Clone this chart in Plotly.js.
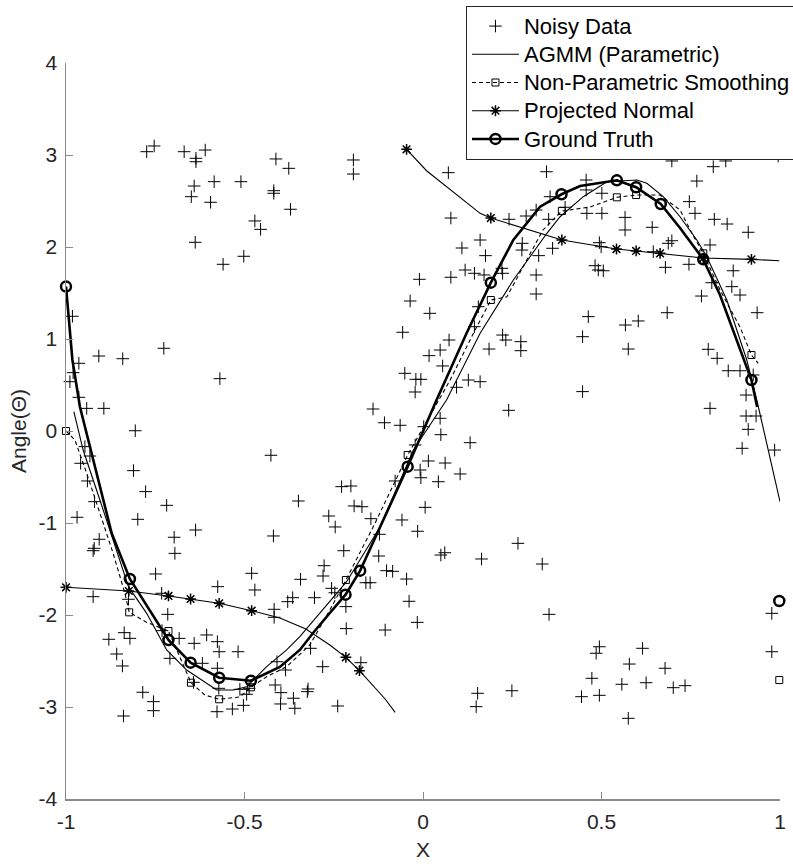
<!DOCTYPE html>
<html>
<head>
<meta charset="utf-8">
<script src="https://cdn.plot.ly/plotly-3.0.1.min.js"></script>
<style>html,body{margin:0;padding:0;background:#fff;}#chart{width:793px;height:864px;}</style>
</head>
<body>
<div id="chart"></div>
<script>
// ---- Noisy data ----
const noisyX = [-0.774,-0.753,-0.669,-0.636,-0.636,-0.610,-0.641,-0.649,-0.585,-0.595,-0.510,-0.638,-0.560,-0.502,-0.471,-0.455,-0.418,-0.418,-0.412,-0.376,-0.371,
-0.982,-0.964,-0.908,-0.841,-0.726,-0.569,-0.980,-0.989,-0.964,-0.942,-0.894,-0.806,-0.947,-0.933,-0.959,-0.811,-0.940,-0.777,-0.920,-0.718,-0.426,-0.349,
-0.969,-0.799,-0.637,-0.907,-0.697,-0.419,-0.921,-0.924,-0.695,-0.749,-0.480,-0.575,-0.471,-0.924,-0.365,-0.343,-0.228,-0.264,-0.246,-0.222,-0.277,-0.280,
-0.256,-0.304,-0.379,-0.417,-0.417,-0.216,-0.715,-0.732,-0.825,-0.880,-0.837,-0.821,-0.858,-0.842,-0.785,-0.755,-0.755,-0.839,-0.731,-0.683,-0.641,-0.606,
-0.576,-0.571,-0.518,-0.709,-0.618,-0.576,-0.643,-0.572,-0.513,-0.487,-0.577,-0.534,-0.503,-0.494,-0.409,-0.385,-0.414,-0.398,-0.399,-0.363,-0.359,
-0.140,-0.108,-0.064,0.002,0.048,0.050,0.240,0.132,-0.022,0.015,0.062,-0.008,-0.006,0.043,0.104,-0.078,-0.202,-0.193,-0.171,-0.146,-0.059,0.006,-0.015,
-0.122,-0.124,0.266,0.050,0.061,0.164,0.334,-0.102,-0.085,-0.046,-0.160,-0.148,-0.247,-0.039,0.353,-0.016,-0.106,-0.215,-0.315,-0.174,-0.281,-0.322,-0.324,
0.153,0.249,-0.239,0.149,-0.195,-0.195,0.071,0.346,0.078,0.241,0.289,0.317,0.352,0.160,0.109,0.175,0.278,0.277,0.324,0.363,0.118,0.144,0.171,0.221,0.223,
0.078,0.317,0.317,-0.010,-0.036,0.019,-0.057,0.155,0.144,0.073,0.048,0.017,0.055,-0.051,-0.020,-0.006,-0.022,0.127,0.160,0.094,0.185,0.223,0.232,0.274,0.274,
0.697,0.813,0.848,0.995,0.767,0.457,0.457,0.501,0.356,0.398,0.459,0.501,0.566,0.566,0.642,0.746,0.762,0.816,0.852,0.911,0.494,0.499,0.645,0.687,0.697,
0.745,0.679,0.804,0.482,0.491,0.505,0.869,0.809,0.865,0.888,0.780,0.936,0.684,0.463,0.567,0.603,0.447,0.575,0.799,0.824,0.855,0.888,0.925,0.447,0.905,
0.804,0.905,0.933,0.911,0.894,0.985,0.977,0.977,0.494,0.485,0.615,0.578,0.678,0.473,0.557,0.625,0.701,0.734,0.444,0.494,0.575,0.580];
const noisyY = [3.036,3.098,3.036,2.964,2.927,3.054,2.663,2.547,2.710,2.486,2.710,2.051,1.812,1.899,2.283,2.192,2.612,2.584,2.957,2.855,2.410,
1.247,0.736,0.815,0.786,0.899,0.569,0.634,0.536,0.366,0.246,0.246,0.003,-0.170,-0.272,-0.351,-0.431,-0.543,-0.659,-0.768,-0.808,-0.264,-0.761,
-0.938,-0.960,-1.076,-1.177,-1.155,-1.141,-1.275,-1.301,-1.330,-1.554,-1.547,-1.692,-1.728,-1.801,-1.812,-1.612,-0.605,-0.924,-1.043,-1.301,-1.464,-1.576,
-1.710,-1.812,-1.855,-1.938,-2.025,-1.909,-1.993,-1.764,-1.829,-2.264,-2.192,-2.254,-2.424,-2.554,-2.840,-2.942,-3.040,-3.098,-2.170,-2.254,-2.308,-2.217,
-2.290,-2.399,-2.399,-2.471,-2.525,-2.579,-2.732,-2.797,-2.808,-2.797,-3.051,-3.022,-2.982,-2.862,-2.508,-2.598,-2.761,-2.844,-2.967,-2.905,-3.014,
0.239,0.090,0.062,0.047,0.138,-0.040,0.225,-0.127,-0.152,-0.326,-0.348,-0.424,-0.508,-0.551,-0.467,-0.543,-0.598,-0.815,-0.823,-0.953,-0.967,-0.830,-1.090,
-1.123,-1.359,-1.221,-1.348,-1.323,-1.391,-1.446,-1.518,-1.525,-1.609,-1.649,-1.649,-1.758,-1.851,-1.993,-2.080,-2.163,-2.148,-2.362,-2.518,-2.562,-2.804,-2.833,
-2.851,-2.823,-2.989,-2.996,2.946,2.793,2.808,2.818,2.315,2.301,2.337,2.402,2.301,2.076,1.989,1.906,2.040,1.967,1.906,1.986,1.750,1.714,1.696,1.768,1.714,
1.671,1.696,1.489,1.649,1.413,1.279,1.073,1.351,1.134,0.989,0.880,0.819,0.707,0.627,0.562,0.562,0.424,0.554,0.536,0.475,0.891,1.043,0.989,0.971,0.873,
2.935,2.873,2.935,2.989,2.717,2.728,2.620,2.584,2.547,2.432,2.366,2.366,2.322,2.185,2.214,2.493,2.366,2.301,2.250,2.160,2.047,2.003,1.949,2.040,2.068,
1.812,1.779,2.022,1.797,1.750,1.742,1.742,1.612,1.569,1.478,1.467,1.286,1.286,1.243,1.152,1.196,1.025,0.891,0.888,0.790,0.655,0.655,0.609,0.428,0.391,
0.246,0.163,0.163,0.018,-0.188,-0.207,-1.982,-2.399,-2.345,-2.416,-2.362,-2.533,-2.579,-2.688,-2.753,-2.736,-2.790,-2.768,-2.888,-2.873,-3.123,3.030];

// ---- AGMM (Parametric) ----
const agmmX = [-0.978,-0.952,-0.905,-0.858,-0.825,-0.774,-0.718,-0.662,-0.578,-0.531,-0.494,-0.438,-0.382,-0.345,-0.214,-0.120,-0.027,0.066,0.160,0.253,0.347,0.384,0.449,0.515,0.599,0.627,0.673,0.720,0.767,0.795,0.851,0.907,0.935,1.000];
const agmmY = [0.210,-0.207,-0.750,-1.293,-1.692,-1.982,-2.380,-2.598,-2.815,-2.815,-2.779,-2.562,-2.380,-2.236,-1.638,-1.040,-0.207,0.337,1.062,1.641,2.149,2.329,2.547,2.710,2.728,2.692,2.547,2.329,2.076,1.895,1.424,0.772,0.337,-0.768];

// ---- Non-Parametric Smoothing ----
const npX = [-1.0,-0.975,-0.942,-0.905,-0.868,-0.835,-0.823,-0.776,-0.713,-0.681,-0.650,-0.611,-0.571,-0.513,-0.482,-0.438,-0.382,-0.317,-0.261,-0.216,-0.134,-0.043,0.076,0.146,0.190,0.235,0.290,0.336,0.389,0.468,0.543,0.597,0.664,0.720,0.756,0.785,0.832,0.888,0.920,0.939];
const npY = [0.0,-0.098,-0.460,-0.895,-1.329,-1.764,-1.971,-2.076,-2.174,-2.457,-2.736,-2.870,-2.916,-2.891,-2.786,-2.671,-2.562,-2.326,-1.946,-1.620,-1.0,-0.261,0.554,1.098,1.424,1.459,1.859,2.185,2.391,2.435,2.540,2.565,2.565,2.402,2.130,1.931,1.533,1.130,0.826,0.736];
const npMarkX = [-1.0,-0.823,-0.713,-0.650,-0.571,-0.482,-0.216,-0.043,0.190,0.389,0.543,0.597,0.785,0.920,0.998];
const npMarkY = [0.0,-1.971,-2.174,-2.736,-2.916,-2.786,-1.620,-0.261,1.424,2.391,2.540,2.565,1.931,0.826,-2.707];

// ---- Projected Normal ----
const pnX = [-1.0,-0.824,-0.713,-0.651,-0.571,-0.480,-0.401,-0.328,-0.261,-0.216,-0.178,-0.106,-0.078,null,-0.046,0.010,0.160,0.190,0.389,0.542,0.597,0.664,0.785,0.920,0.998];
const pnY = [-1.699,-1.739,-1.793,-1.826,-1.873,-1.953,-2.033,-2.152,-2.326,-2.460,-2.605,-2.913,-3.058,null,3.062,2.829,2.366,2.315,2.076,1.978,1.957,1.931,1.880,1.866,1.851];
const pnMarkX = [-1.0,-0.824,-0.713,-0.651,-0.571,-0.480,-0.216,-0.178,-0.046,0.190,0.389,0.542,0.597,0.664,0.785,0.920];
const pnMarkY = [-1.699,-1.739,-1.793,-1.826,-1.873,-1.953,-2.460,-2.605,3.062,2.315,2.076,1.978,1.957,1.931,1.880,1.866];

// ---- Ground Truth ----
const gtX = [-1.0,-0.982,-0.961,-0.872,-0.821,-0.713,-0.651,-0.571,-0.482,-0.401,-0.345,-0.308,-0.261,-0.217,-0.176,-0.043,0.038,0.122,0.190,0.253,0.328,0.388,0.440,0.543,0.597,0.666,0.720,0.785,0.832,0.874,0.920,0.936];
const gtY = [1.570,0.772,0.264,-1.112,-1.609,-2.272,-2.518,-2.682,-2.714,-2.565,-2.380,-2.196,-1.978,-1.779,-1.518,-0.388,0.337,1.062,1.612,2.076,2.438,2.573,2.663,2.725,2.649,2.467,2.207,1.866,1.478,1.043,0.554,0.260];
const gtMarkX = [-1.0,-0.821,-0.713,-0.651,-0.571,-0.482,-0.217,-0.176,-0.043,0.190,0.388,0.543,0.597,0.666,0.785,0.920,0.998];
const gtMarkY = [1.570,-1.609,-2.272,-2.518,-2.682,-2.714,-1.779,-1.518,-0.388,1.612,2.573,2.725,2.649,2.467,1.866,0.554,-1.848];

// ---- Axis ticks ----
const xTicks = [-1,-0.5,0,0.5,1];
const xTickText = ['-1','-0.5','0','0.5','1'];
const yTicks = [-4,-3,-2,-1,0,1,2,3,4];
const yTickText = ['-4','-3','-2','-1','0','1','2','3','4'];

const legendNames = ['Noisy Data','AGMM (Parametric)','Non-Parametric Smoothing','Projected Normal','Ground Truth'];
const leg = s => '<span style="font-size:22px">' + s + '</span>';

const K = '#000000';
const thin = 1.1;
const traces = [
  {x: noisyX, y: noisyY, mode: 'markers', name: leg(legendNames[0]), cliponaxis: false,
   marker: {symbol: 'cross-thin-open', size: 9, color: K, line: {color: K, width: 1}}},
  {x: agmmX, y: agmmY, mode: 'lines', name: leg(legendNames[1]), cliponaxis: false,
   line: {color: K, width: thin}},
  {x: [null], y: [null], mode: 'lines+markers', name: leg(legendNames[2]),
   line: {color: K, width: thin, dash: '4px,3px'},
   marker: {symbol: 'square-open', size: 7, color: K, line: {color: K, width: 1}}},
  {x: [null], y: [null], mode: 'lines+markers', name: leg(legendNames[3]),
   line: {color: K, width: thin},
   marker: {symbol: 'asterisk-open', size: 9, color: K, line: {color: K, width: 1.5}}},
  {x: [null], y: [null], mode: 'lines+markers', name: leg(legendNames[4]),
   line: {color: K, width: 2.6},
   marker: {symbol: 'circle-open', size: 10, color: K, line: {color: K, width: 2.5}}},
  // drawn curves
  {x: npX, y: npY, mode: 'lines', showlegend: false, cliponaxis: false,
   line: {color: K, width: thin, dash: '4px,3px'}},
  {x: npMarkX, y: npMarkY, mode: 'markers', showlegend: false, cliponaxis: false,
   marker: {symbol: 'square-open', size: 7, color: K, line: {color: K, width: 1}}},
  {x: pnX, y: pnY, mode: 'lines', showlegend: false, cliponaxis: false, connectgaps: false,
   line: {color: K, width: thin}},
  {x: pnMarkX, y: pnMarkY, mode: 'markers', showlegend: false, cliponaxis: false,
   marker: {symbol: 'asterisk-open', size: 9, color: K, line: {color: K, width: 1.5}}},
  {x: gtX, y: gtY, mode: 'lines', showlegend: false, cliponaxis: false,
   line: {color: K, width: 2.6}},
  {x: gtMarkX, y: gtMarkY, mode: 'markers', showlegend: false, cliponaxis: false,
   marker: {symbol: 'circle-open', size: 10, color: K, line: {color: K, width: 2.5}}}
];

const FONT = 'Liberation Sans, Arial, Helvetica, sans-serif';
const axisCol = '#8a8a8a';
const txtCol = '#262626';
const layout = {
  width: 793, height: 864,
  margin: {l: 66, r: 13, t: 63, b: 65, autoexpand: false},
  paper_bgcolor: '#ffffff', plot_bgcolor: '#ffffff',
  font: {family: FONT, size: 20, color: txtCol},
  showlegend: true,
  xaxis: {
    range: [-1, 1], tickmode: 'array', tickvals: xTicks, ticktext: xTickText,
    showgrid: false, zeroline: false, showline: true, linecolor: axisCol, linewidth: 1.5,
    ticks: 'inside', ticklen: 7, tickcolor: axisCol, tickwidth: 1,
    tickfont: {family: FONT, size: 21, color: txtCol}, ticklabelstandoff: 3,
    title: {text: 'X', font: {family: FONT, size: 21, color: txtCol}, standoff: 10},
    automargin: false, fixedrange: true
  },
  yaxis: {
    range: [-4, 4], tickmode: 'array', tickvals: yTicks, ticktext: yTickText,
    showgrid: false, zeroline: false, showline: true, linecolor: axisCol, linewidth: 1.5,
    ticks: 'inside', ticklen: 7, tickcolor: axisCol, tickwidth: 1,
    tickfont: {family: FONT, size: 21, color: txtCol}, ticklabelstandoff: 3,
    title: {text: 'Angle(Θ)', font: {family: FONT, size: 21, color: txtCol}, standoff: 6},
    automargin: false, fixedrange: true
  },
  legend: {
    x: 0.5602, y: 1.0775, xanchor: 'left', yanchor: 'top',
    bgcolor: '#ffffff', bordercolor: '#262626', borderwidth: 1,
    font: {family: FONT, size: 19.4, color: '#000000'},
    itemwidth: 47, traceorder: 'normal', tracegroupgap: 0
  }
};

Plotly.newPlot('chart', traces, layout, {displayModeBar: false, staticPlot: true});
</script>
</body>
</html>
